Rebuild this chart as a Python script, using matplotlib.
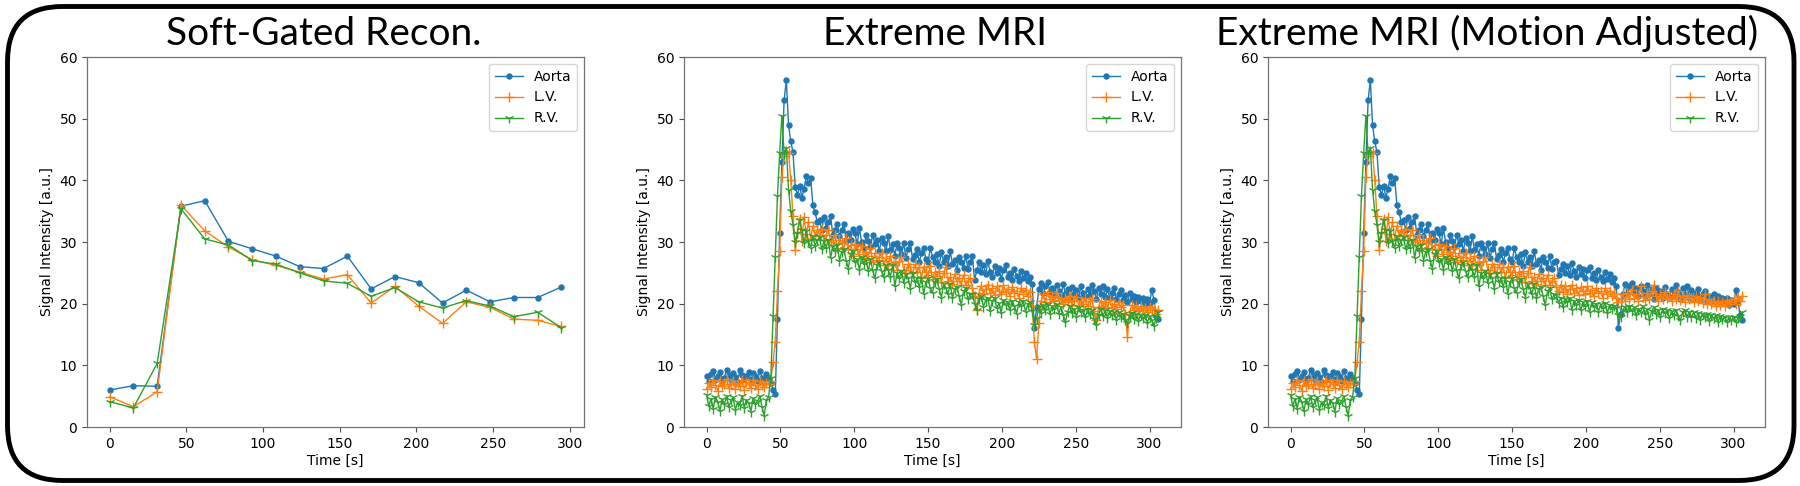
import numpy as np
import matplotlib
matplotlib.use("Agg")
import matplotlib.pyplot as plt
from matplotlib.patches import FancyBboxPatch

# ---------------- data ----------------
titles = ["Soft-Gated Recon.", "Extreme MRI", "Extreme MRI (Motion Adjusted)"]
series_names = ["Aorta", "L.V.", "R.V."]
xticks = [0, 50, 100, 150, 200, 250, 300]
yticks = [0, 10, 20, 30, 40, 50, 60]

# Panel 1 (soft-gated, ~15.5 s frames)
t_soft = [0, 15.5, 31, 46.5, 62, 77.5, 93, 108.5, 124, 139.5, 155, 170.5,
          186, 201.5, 217, 232.5, 248, 263.5, 279, 294.5]
aorta_soft = [6.0, 6.7, 6.6, 35.8, 36.7, 30.1, 28.9, 27.7, 26.0, 25.7, 27.7, 22.4,
              24.4, 23.4, 20.1, 22.2, 20.3, 21.0, 21.0, 22.7]
lv_soft = [4.9, 3.3, 5.7, 36.0, 31.8, 29.2, 27.1, 26.2, 25.1, 24.0, 24.7, 20.1,
           22.8, 19.6, 16.8, 20.3, 19.4, 17.5, 17.3, 16.3]
rv_soft = [4.1, 3.1, 10.3, 35.4, 30.5, 29.5, 27.0, 26.4, 25.0, 23.7, 23.3, 21.2,
           22.6, 20.3, 19.3, 20.5, 19.6, 17.9, 18.6, 16.1]

# Extreme MRI frames: 1.5 s apart, 0 .. 306 s
frame_dt = 1.5

# first 120 frames (0 - 178.5 s), common to both Extreme MRI panels
aorta_early = [
    8.3, 7.4, 8.6, 9.1, 7.7, 8.2, 8.9, 7.5, 8.0, 9.2,
    8.4, 7.6, 8.8, 8.1, 7.3, 9.3, 8.5, 7.8, 8.2, 9.0,
    7.6, 8.7, 8.3, 7.5, 9.1, 8.0, 7.8, 8.6, 7.9,
    7.2, 6.0, 5.3, 17.5, 31.5, 43.0, 53.0, 56.2, 49.0, 46.3, 44.6,
    39.0, 37.6, 39.1, 37.2, 38.6, 40.7, 39.5, 40.3, 36.0, 34.8, 33.2,
    33.5, 32.0, 34.1, 32.3, 33.3, 34.2, 31.1, 31.9, 32.9, 31.0,
    32.0, 33.0, 30.1, 31.4, 30.4, 32.1, 31.4, 29.6, 32.2, 30.0,
    29.0, 31.1, 30.1, 29.2, 31.2, 29.6, 30.4, 28.5, 30.7, 29.8,
    28.5, 30.9, 28.7, 29.6, 27.8, 29.8, 29.0, 28.0, 29.8, 27.4,
    28.9, 29.9, 27.2, 27.9, 28.9, 26.7, 28.2, 29.1, 27.2, 26.7,
    29.0, 27.6, 26.7, 28.1, 26.1, 28.4, 26.8, 27.6, 26.1, 28.5,
    26.4, 27.1, 25.5, 27.6, 26.7, 25.8, 27.8, 25.6, 26.8]
lv_early = [
    6.1, 7.2, 6.5, 7.7, 6.8, 5.9, 7.4, 6.6, 7.0, 7.8,
    6.3, 6.9, 7.5, 6.2, 7.1, 6.7, 7.6, 6.0, 7.3, 6.9,
    6.4, 7.7, 6.8, 6.2, 7.4, 7.0, 6.5, 7.2, 6.9,
    7.5, 10.5, 13.8, 22.0, 28.5, 40.5, 44.0, 44.8, 44.5, 40.0, 34.2,
    28.7, 31.5, 33.8, 30.2, 34.0, 31.3, 33.2, 30.5, 32.6, 31.0, 32.0,
    31.2, 32.1, 30.3, 31.2, 31.9, 30.0, 30.4, 31.2, 29.1, 30.4,
    29.8, 28.9, 30.7, 28.9, 29.5, 27.8, 29.6, 28.8, 28.0, 29.4,
    27.4, 28.4, 27.8, 29.0, 26.8, 28.2, 27.1, 27.5, 28.2, 26.2,
    27.4, 26.2, 27.7, 26.3, 26.7, 25.5, 26.9, 27.5, 25.5, 24.9,
    26.4, 25.9, 24.9, 26.4, 25.1, 25.9, 24.2, 26.0, 25.2, 24.6,
    26.1, 24.0, 25.1, 24.5, 25.3, 23.5, 25.0, 25.9, 23.7, 24.3,
    23.2, 24.8, 23.6, 24.2, 23.0, 24.7, 23.0, 23.6, 24.2]
rv_early = [
    5.2, 3.4, 4.6, 3.0, 4.9, 4.1, 2.6, 4.5, 3.7, 5.0,
    3.2, 4.3, 4.8, 2.8, 4.0, 3.6, 5.1, 3.1, 4.4, 3.9,
    2.5, 4.7, 3.8, 4.2, 5.0, 3.3, 1.8, 4.4, 4.9,
    8.0, 18.0, 27.5, 37.5, 44.5, 50.5, 44.2, 45.3, 38.5, 35.0, 32.8,
    30.0, 31.5, 33.6, 32.0, 29.8, 31.8, 30.2, 29.0, 31.0, 29.4, 30.3,
    30.8, 28.8, 30.1, 29.1, 30.4, 27.4, 29.4, 28.5, 29.5, 27.0,
    28.4, 28.8, 27.0, 25.7, 28.1, 28.5, 26.7, 27.2, 25.5, 27.6,
    26.5, 27.1, 25.3, 27.2, 25.4, 24.1, 26.3, 26.7, 25.3, 24.3,
    26.2, 25.5, 24.4, 26.2, 22.8, 25.0, 24.1, 25.3, 23.4, 24.8,
    24.2, 22.4, 24.9, 23.5, 24.1, 22.7, 24.2, 21.6, 23.5, 24.1,
    22.5, 21.8, 23.5, 24.0, 22.4, 21.0, 23.2, 22.6, 21.6, 23.2,
    20.9, 22.4, 22.7, 21.3, 19.8, 22.0, 22.5, 20.7, 21.5]

# remaining 85 frames (180 - 306 s), Extreme MRI
aorta_late_x = [
    27.7, 23.8, 25.4, 26.7, 25.1, 26.3, 24.8, 26.9, 25.2, 24.4,
    26.1, 24.9, 25.8, 24.0, 25.5, 26.2, 24.3, 25.0, 23.9, 25.6,
    24.5, 23.7, 25.3, 24.1, 24.9, 23.6, 24.4, 23.2, 16.0, 19.4,
    22.3, 23.4, 21.7, 22.9, 23.5, 21.9, 22.6, 21.4, 23.0, 22.1,
    21.3, 23.2, 21.6, 22.4, 20.9, 22.7, 21.5, 22.2, 21.0, 22.8,
    21.7, 21.2, 22.4, 21.4, 23.1, 22.0, 20.8, 22.6, 21.5, 22.9,
    21.1, 22.3, 20.9, 21.8, 22.5, 20.7, 21.6, 22.2, 20.6, 21.4,
    20.3, 21.7, 20.8, 21.3, 20.2, 21.1, 20.5, 21.0, 19.9, 20.7,
    20.1, 22.2, 20.6, 18.0, 17.5]
lv_late_x = [
    22.6, 21.3, 19.0, 21.8, 22.9, 21.6, 22.4, 23.1, 21.7, 22.5,
    21.4, 22.8, 22.0, 21.5, 23.0, 21.9, 22.3, 21.2, 22.7, 21.8,
    22.1, 21.0, 22.6, 21.6, 22.2, 21.3, 21.9, 19.6, 13.8, 11.0,
    16.8, 20.4, 21.5, 20.3, 21.9, 20.7, 21.2, 20.4, 21.7, 20.6,
    21.0, 19.9, 20.9, 20.2, 21.3, 19.8, 20.6, 21.1, 19.7, 20.5,
    20.0, 21.0, 19.6, 20.4, 20.8, 18.8, 17.3, 19.5, 20.5, 19.6,
    20.2, 19.3, 20.6, 19.5, 19.9, 19.1, 20.3, 19.4, 19.8, 18.4,
    14.6, 18.6, 19.8, 19.0, 19.6, 18.8, 19.7, 19.0, 19.3, 18.6,
    19.5, 18.9, 19.2, 18.4, 18.9]
rv_late_x = [
    21.6, 20.0, 19.0, 20.8, 21.2, 19.5, 20.6, 21.0, 18.8, 20.4,
    20.9, 19.3, 20.1, 18.5, 20.6, 19.8, 20.3, 18.9, 20.5, 19.6,
    18.4, 20.2, 19.7, 20.4, 18.7, 19.9, 20.3, 18.8, 16.5, 17.6,
    19.4, 18.5, 19.8, 18.9, 20.0, 18.3, 19.6, 19.1, 19.9, 18.4,
    19.5, 18.2, 17.0, 18.7, 19.6, 18.5, 19.2, 17.9, 19.4, 18.6,
    19.0, 17.8, 19.1, 18.3, 18.9, 17.5, 16.6, 18.2, 19.2, 18.0,
    18.9, 17.7, 18.8, 18.1, 18.6, 17.4, 18.7, 17.9, 18.4, 17.3,
    16.9, 18.0, 18.5, 17.5, 18.3, 17.2, 18.2, 17.6, 18.1, 16.9,
    18.0, 17.4, 16.4, 17.7, 18.6]

# remaining 85 frames (180 - 306 s), Extreme MRI (Motion Adjusted)
aorta_late_m = [
    27.0, 24.6, 25.7, 26.5, 25.0, 26.1, 24.7, 26.6, 25.3, 24.3,
    25.9, 24.8, 25.6, 24.1, 25.4, 26.0, 24.2, 24.9, 23.8, 25.5,
    24.4, 23.6, 25.1, 24.0, 24.8, 23.5, 24.2, 22.8, 16.1, 18.3,
    21.6, 23.2, 21.5, 22.8, 23.4, 21.8, 22.5, 21.3, 22.9, 22.0,
    21.2, 23.1, 21.5, 22.3, 20.8, 22.6, 21.4, 22.1, 20.9, 22.7,
    21.6, 21.1, 22.3, 21.3, 23.0, 21.9, 20.7, 22.5, 21.4, 22.8,
    21.0, 22.2, 20.8, 21.7, 22.4, 20.6, 21.5, 22.1, 20.5, 21.3,
    20.2, 21.6, 20.7, 21.2, 20.1, 21.0, 20.4, 20.9, 19.8, 20.6,
    20.0, 22.2, 20.5, 18.1, 17.4]
lv_late_m = [
    22.7, 22.0, 23.1, 21.9, 22.8, 21.6, 22.4, 23.0, 21.7, 22.5,
    21.4, 22.7, 22.0, 21.5, 22.9, 21.8, 22.2, 21.2, 22.6, 21.7,
    22.0, 21.0, 22.5, 21.5, 22.1, 21.2, 21.8, 20.9, 20.3, 20.8,
    21.5, 20.4, 21.8, 20.7, 22.2, 21.0, 21.6, 20.5, 22.8, 21.1,
    20.6, 21.7, 20.8, 22.0, 23.0, 21.2, 20.5, 21.6, 20.7, 21.9,
    20.9, 21.3, 20.4, 21.5, 20.8, 22.1, 20.6, 21.2, 20.3, 21.4,
    20.7, 21.0, 20.2, 21.3, 20.5, 20.9, 20.1, 21.6, 20.0, 20.7,
    19.9, 20.4, 19.7, 20.5, 19.8, 20.2, 19.6, 20.6, 19.9, 20.3,
    20.8, 20.0, 21.1, 20.4, 21.3]
rv_late_m = [
    21.4, 20.1, 21.0, 19.4, 20.8, 20.2, 20.9, 19.0, 20.5, 19.8,
    20.6, 18.9, 20.3, 19.6, 20.4, 18.6, 20.2, 19.5, 20.0, 18.7,
    19.9, 19.3, 20.1, 18.5, 19.8, 19.2, 19.7, 19.3, 18.2, 17.9,
    19.0, 19.5, 18.6, 19.7, 18.8, 19.4, 18.1, 19.2, 18.7, 19.6,
    18.3, 19.1, 17.4, 18.8, 19.4, 18.4, 19.0, 17.9, 19.1, 18.5,
    18.9, 17.6, 18.8, 18.2, 19.0, 18.0, 17.3, 18.6, 19.0, 17.9,
    18.7, 17.8, 18.6, 17.7, 18.5, 17.4, 18.4, 17.9, 18.3, 17.2,
    18.2, 17.6, 18.1, 17.1, 18.0, 17.5, 17.9, 17.0, 17.8, 17.3,
    17.9, 17.1, 17.6, 18.0, 18.6]

for arr in (aorta_early, lv_early, rv_early):
    assert len(arr) == 120, len(arr)
for arr in (aorta_late_x, lv_late_x, rv_late_x, aorta_late_m, lv_late_m, rv_late_m):
    assert len(arr) == 85, len(arr)

# ---------------- figure ----------------
plt.rcParams['font.family'] = ['DejaVu Sans']
fig = plt.figure(figsize=(18, 4.86), dpi=100)

colors = ['#1f77b4', '#ff7f0e', '#2ca02c']
markers = ['o', '+', '1']
msizes = [3.6, 7, 7]

ax_lefts = [87 / 1800, 684 / 1800, 1268 / 1800]
ax_w = 497 / 1800
ax_b = 59 / 486
ax_h = 370 / 486

panels = [
    (t_soft, [aorta_soft, lv_soft, rv_soft]),
    (None, [aorta_early + aorta_late_x, lv_early + lv_late_x, rv_early + rv_late_x]),
    (None, [aorta_early + aorta_late_m, lv_early + lv_late_m, rv_early + rv_late_m]),
]

for k, (t, ys) in enumerate(panels):
    ax = fig.add_axes([ax_lefts[k], ax_b, ax_w, ax_h])
    for j, y in enumerate(ys):
        tt = t if t is not None else frame_dt * np.arange(len(y))
        ax.plot(tt, y, color=colors[j], marker=markers[j], markersize=msizes[j],
                linewidth=1.0, markeredgewidth=1.0, label=series_names[j])
    ax.set_ylim(0, 60)
    ax.set_yticks(yticks)
    ax.set_xticks(xticks)
    ax.set_xlabel("Time [s]", fontsize=10, labelpad=2)
    ax.set_ylabel("Signal Intensity [a.u.]", fontsize=10)
    ax.tick_params(labelsize=10, color='0.3')
    for sp in ax.spines.values():
        sp.set_color('0.45')
        sp.set_linewidth(0.9)
    ax.legend(loc='upper right', fontsize=10)

title_x = [324 / 1800, 935 / 1800, 1487 / 1800]
for k, ttl in enumerate(titles):
    fig.text(title_x[k], 1 - 45 / 486, ttl, ha='center', va='baseline',
             fontsize=28, family=['Lato', 'DejaVu Sans'], fontweight='normal',
             color='black')

border = FancyBboxPatch((0.075, 0.055), 18 - 0.075 - 0.06, 4.86 - 0.055 - 0.065,
                        boxstyle="round,pad=0,rounding_size=0.55",
                        transform=fig.dpi_scale_trans, fill=False,
                        edgecolor='black', linewidth=3.5, clip_on=False)
fig.add_artist(border)

fig.savefig("out.png", dpi=100, facecolor='white')
